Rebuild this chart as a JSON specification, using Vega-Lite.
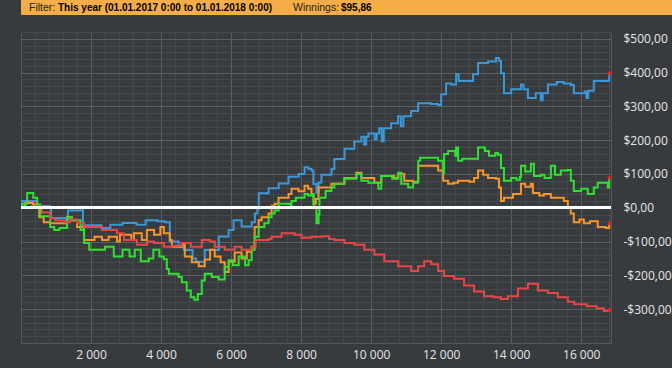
{
  "$schema": "https://vega.github.io/schema/vega-lite/v6.json",
  "background": "#383b3e",
  "padding": 0,
  "spacing": 16,
  "align": "none",
  "bounds": "full",
  "config": {
    "view": {"stroke": null},
    "locale": {"number": {"decimal": ",", "thousands": " ", "grouping": [3], "currency": ["$", ""], "minus": "-"}},
    "axis": {"labelFont": "Open Sans", "labelFontSize": 12, "labelColor": "#e6e6e6", "titleFont": "Open Sans"}
  },
  "datasets": {
    "lines": [
      {"s":"blue","x":0,"v":0},{"s":"blue","x":34,"v":20},{"s":"blue","x":462,"v":5},{"s":"blue","x":832,"v":0},{"s":"blue","x":860,"v":-30},{"s":"blue","x":1300,"v":-35},{"s":"blue","x":1340,"v":-8},{"s":"blue","x":1744,"v":3},{"s":"blue","x":1770,"v":-52},{"s":"blue","x":2300,"v":-60},{"s":"blue","x":2550,"v":-50},{"s":"blue","x":2900,"v":-45},{"s":"blue","x":3300,"v":-50},{"s":"blue","x":3560,"v":-37},{"s":"blue","x":3900,"v":-40},{"s":"blue","x":4100,"v":-43},{"s":"blue","x":4250,"v":-100},{"s":"blue","x":4500,"v":-115},{"s":"blue","x":4650,"v":-125},{"s":"blue","x":4900,"v":-150},{"s":"blue","x":5000,"v":-160},{"s":"blue","x":5250,"v":-125},{"s":"blue","x":5650,"v":-85},{"s":"blue","x":5930,"v":-66},{"s":"blue","x":6070,"v":-37},{"s":"blue","x":6300,"v":-55},{"s":"blue","x":6590,"v":-43},{"s":"blue","x":6680,"v":-17},{"s":"blue","x":6750,"v":-3},{"s":"blue","x":6790,"v":43},{"s":"blue","x":7070,"v":58},{"s":"blue","x":7360,"v":72},{"s":"blue","x":7640,"v":92},{"s":"blue","x":7930,"v":100},{"s":"blue","x":8100,"v":120},{"s":"blue","x":8210,"v":115},{"s":"blue","x":8300,"v":110},{"s":"blue","x":8350,"v":70},{"s":"blue","x":8440,"v":45},{"s":"blue","x":8500,"v":75},{"s":"blue","x":8580,"v":98},{"s":"blue","x":8870,"v":115},{"s":"blue","x":8950,"v":144},{"s":"blue","x":9240,"v":175},{"s":"blue","x":9520,"v":196},{"s":"blue","x":9720,"v":210},{"s":"blue","x":9800,"v":187},{"s":"blue","x":9860,"v":210},{"s":"blue","x":9920,"v":220},{"s":"blue","x":10100,"v":203},{"s":"blue","x":10160,"v":220},{"s":"blue","x":10230,"v":235},{"s":"blue","x":10300,"v":197},{"s":"blue","x":10360,"v":235},{"s":"blue","x":10570,"v":250},{"s":"blue","x":10770,"v":271},{"s":"blue","x":10850,"v":241},{"s":"blue","x":10920,"v":271},{"s":"blue","x":11140,"v":286},{"s":"blue","x":11340,"v":309},{"s":"blue","x":11710,"v":307},{"s":"blue","x":11910,"v":304},{"s":"blue","x":12000,"v":336},{"s":"blue","x":12140,"v":368},{"s":"blue","x":12284,"v":365},{"s":"blue","x":12426,"v":395},{"s":"blue","x":12500,"v":375},{"s":"blue","x":12910,"v":395},{"s":"blue","x":13053,"v":428},{"s":"blue","x":13338,"v":433},{"s":"blue","x":13566,"v":443},{"s":"blue","x":13650,"v":435},{"s":"blue","x":13708,"v":398},{"s":"blue","x":13793,"v":339},{"s":"blue","x":14000,"v":351},{"s":"blue","x":14278,"v":365},{"s":"blue","x":14350,"v":351},{"s":"blue","x":14477,"v":325},{"s":"blue","x":14700,"v":339},{"s":"blue","x":14848,"v":318},{"s":"blue","x":14900,"v":339},{"s":"blue","x":15047,"v":365},{"s":"blue","x":15300,"v":372},{"s":"blue","x":15500,"v":368},{"s":"blue","x":15703,"v":363},{"s":"blue","x":15788,"v":339},{"s":"blue","x":16100,"v":344},{"s":"blue","x":16150,"v":325},{"s":"blue","x":16200,"v":346},{"s":"blue","x":16358,"v":375},{"s":"blue","x":16757,"v":375},{"s":"blue","x":16800,"v":398},

      {"s":"orange","x":0,"v":0},{"s":"orange","x":120,"v":14},{"s":"orange","x":350,"v":10},{"s":"orange","x":462,"v":0},{"s":"orange","x":519,"v":-28},{"s":"orange","x":650,"v":-43},{"s":"orange","x":832,"v":-46},{"s":"orange","x":1316,"v":-28},{"s":"orange","x":1450,"v":-37},{"s":"orange","x":1601,"v":-57},{"s":"orange","x":1801,"v":-95},{"s":"orange","x":2100,"v":-86},{"s":"orange","x":2313,"v":-95},{"s":"orange","x":2500,"v":-86},{"s":"orange","x":2741,"v":-100},{"s":"orange","x":2826,"v":-80},{"s":"orange","x":3150,"v":-95},{"s":"orange","x":3225,"v":-75},{"s":"orange","x":3450,"v":-95},{"s":"orange","x":3595,"v":-66},{"s":"orange","x":3800,"v":-80},{"s":"orange","x":3980,"v":-57},{"s":"orange","x":4080,"v":-75},{"s":"orange","x":4250,"v":-95},{"s":"orange","x":4308,"v":-115},{"s":"orange","x":4600,"v":-110},{"s":"orange","x":4678,"v":-144},{"s":"orange","x":4878,"v":-161},{"s":"orange","x":5077,"v":-173},{"s":"orange","x":5248,"v":-153},{"s":"orange","x":5400,"v":-124},{"s":"orange","x":5533,"v":-144},{"s":"orange","x":5700,"v":-161},{"s":"orange","x":5818,"v":-190},{"s":"orange","x":5932,"v":-160},{"s":"orange","x":6103,"v":-132},{"s":"orange","x":6300,"v":-150},{"s":"orange","x":6450,"v":-130},{"s":"orange","x":6587,"v":-115},{"s":"orange","x":6673,"v":-57},{"s":"orange","x":6787,"v":-37},{"s":"orange","x":6872,"v":-28},{"s":"orange","x":7071,"v":-17},{"s":"orange","x":7157,"v":6},{"s":"orange","x":7242,"v":12},{"s":"orange","x":7356,"v":30},{"s":"orange","x":7641,"v":41},{"s":"orange","x":7727,"v":56},{"s":"orange","x":7926,"v":49},{"s":"orange","x":8097,"v":65},{"s":"orange","x":8200,"v":56},{"s":"orange","x":8296,"v":41},{"s":"orange","x":8353,"v":12},{"s":"orange","x":8420,"v":26},{"s":"orange","x":8496,"v":60},{"s":"orange","x":8866,"v":71},{"s":"orange","x":9236,"v":88},{"s":"orange","x":9578,"v":104},{"s":"orange","x":9720,"v":88},{"s":"orange","x":10090,"v":74},{"s":"orange","x":10290,"v":94},{"s":"orange","x":10660,"v":88},{"s":"orange","x":10774,"v":100},{"s":"orange","x":10945,"v":80},{"s":"orange","x":11200,"v":77},{"s":"orange","x":11344,"v":124},{"s":"orange","x":11714,"v":124},{"s":"orange","x":11913,"v":110},{"s":"orange","x":12056,"v":80},{"s":"orange","x":12198,"v":71},{"s":"orange","x":12350,"v":74},{"s":"orange","x":12483,"v":80},{"s":"orange","x":12800,"v":77},{"s":"orange","x":12939,"v":88},{"s":"orange","x":13053,"v":110},{"s":"orange","x":13200,"v":98},{"s":"orange","x":13338,"v":88},{"s":"orange","x":13566,"v":86},{"s":"orange","x":13651,"v":60},{"s":"orange","x":13708,"v":20},{"s":"orange","x":13793,"v":30},{"s":"orange","x":14050,"v":41},{"s":"orange","x":14278,"v":71},{"s":"orange","x":14400,"v":62},{"s":"orange","x":14560,"v":71},{"s":"orange","x":14620,"v":44},{"s":"orange","x":14800,"v":36},{"s":"orange","x":14933,"v":41},{"s":"orange","x":15133,"v":30},{"s":"orange","x":15300,"v":30},{"s":"orange","x":15503,"v":20},{"s":"orange","x":15617,"v":0},{"s":"orange","x":15700,"v":-17},{"s":"orange","x":15788,"v":-43},{"s":"orange","x":15950,"v":-35},{"s":"orange","x":16073,"v":-46},{"s":"orange","x":16250,"v":-40},{"s":"orange","x":16472,"v":-57},{"s":"orange","x":16700,"v":-60},{"s":"orange","x":16800,"v":-46},

      {"s":"green","x":0,"v":0},{"s":"green","x":40,"v":12},{"s":"green","x":177,"v":44},{"s":"green","x":350,"v":30},{"s":"green","x":462,"v":10},{"s":"green","x":550,"v":-25},{"s":"green","x":832,"v":-57},{"s":"green","x":950,"v":-66},{"s":"green","x":1100,"v":-60},{"s":"green","x":1316,"v":-28},{"s":"green","x":1450,"v":-37},{"s":"green","x":1700,"v":-66},{"s":"green","x":1801,"v":-104},{"s":"green","x":1950,"v":-124},{"s":"green","x":2400,"v":-115},{"s":"green","x":2650,"v":-144},{"s":"green","x":2900,"v":-124},{"s":"green","x":3100,"v":-144},{"s":"green","x":3250,"v":-124},{"s":"green","x":3420,"v":-158},{"s":"green","x":3650,"v":-150},{"s":"green","x":3780,"v":-124},{"s":"green","x":3950,"v":-144},{"s":"green","x":4080,"v":-152},{"s":"green","x":4165,"v":-181},{"s":"green","x":4222,"v":-195},{"s":"green","x":4500,"v":-205},{"s":"green","x":4593,"v":-220},{"s":"green","x":4735,"v":-245},{"s":"green","x":4850,"v":-265},{"s":"green","x":4950,"v":-272},{"s":"green","x":5050,"v":-255},{"s":"green","x":5162,"v":-215},{"s":"green","x":5250,"v":-195},{"s":"green","x":5450,"v":-205},{"s":"green","x":5647,"v":-212},{"s":"green","x":5818,"v":-175},{"s":"green","x":5932,"v":-155},{"s":"green","x":6050,"v":-170},{"s":"green","x":6217,"v":-144},{"s":"green","x":6400,"v":-170},{"s":"green","x":6500,"v":-155},{"s":"green","x":6587,"v":-124},{"s":"green","x":6673,"v":-86},{"s":"green","x":6787,"v":-57},{"s":"green","x":6950,"v":-46},{"s":"green","x":7071,"v":-28},{"s":"green","x":7157,"v":-17},{"s":"green","x":7242,"v":-8},{"s":"green","x":7356,"v":12},{"s":"green","x":7650,"v":12},{"s":"green","x":7700,"v":0},{"s":"green","x":7727,"v":20},{"s":"green","x":7850,"v":30},{"s":"green","x":8097,"v":41},{"s":"green","x":8200,"v":36},{"s":"green","x":8300,"v":41},{"s":"green","x":8360,"v":0},{"s":"green","x":8439,"v":-46},{"s":"green","x":8500,"v":-20},{"s":"green","x":8524,"v":30},{"s":"green","x":8700,"v":50},{"s":"green","x":8866,"v":60},{"s":"green","x":8950,"v":71},{"s":"green","x":9236,"v":86},{"s":"green","x":9578,"v":100},{"s":"green","x":9720,"v":80},{"s":"green","x":9919,"v":74},{"s":"green","x":10204,"v":56},{"s":"green","x":10290,"v":94},{"s":"green","x":10600,"v":86},{"s":"green","x":10774,"v":104},{"s":"green","x":10860,"v":71},{"s":"green","x":11059,"v":60},{"s":"green","x":11200,"v":74},{"s":"green","x":11344,"v":139},{"s":"green","x":11400,"v":148},{"s":"green","x":11913,"v":139},{"s":"green","x":12056,"v":104},{"s":"green","x":12084,"v":159},{"s":"green","x":12200,"v":168},{"s":"green","x":12400,"v":154},{"s":"green","x":12426,"v":178},{"s":"green","x":12483,"v":139},{"s":"green","x":12600,"v":145},{"s":"green","x":13053,"v":178},{"s":"green","x":13250,"v":168},{"s":"green","x":13366,"v":154},{"s":"green","x":13550,"v":162},{"s":"green","x":13623,"v":157},{"s":"green","x":13708,"v":118},{"s":"green","x":13793,"v":80},{"s":"green","x":14000,"v":88},{"s":"green","x":14150,"v":83},{"s":"green","x":14250,"v":91},{"s":"green","x":14278,"v":124},{"s":"green","x":14400,"v":107},{"s":"green","x":14563,"v":130},{"s":"green","x":14650,"v":94},{"s":"green","x":14850,"v":98},{"s":"green","x":14950,"v":88},{"s":"green","x":15133,"v":124},{"s":"green","x":15250,"v":98},{"s":"green","x":15418,"v":110},{"s":"green","x":15600,"v":112},{"s":"green","x":15703,"v":80},{"s":"green","x":15788,"v":50},{"s":"green","x":16000,"v":56},{"s":"green","x":16187,"v":41},{"s":"green","x":16358,"v":60},{"s":"green","x":16472,"v":74},{"s":"green","x":16650,"v":74},{"s":"green","x":16757,"v":60},{"s":"green","x":16800,"v":89},

      {"s":"red","x":0,"v":0},{"s":"red","x":300,"v":5},{"s":"red","x":600,"v":-14},{"s":"red","x":832,"v":-32},{"s":"red","x":974,"v":-37},{"s":"red","x":1231,"v":-43},{"s":"red","x":1400,"v":-35},{"s":"red","x":1601,"v":-46},{"s":"red","x":1801,"v":-57},{"s":"red","x":2313,"v":-66},{"s":"red","x":2741,"v":-75},{"s":"red","x":2940,"v":-95},{"s":"red","x":3311,"v":-109},{"s":"red","x":3600,"v":-100},{"s":"red","x":3795,"v":-104},{"s":"red","x":4080,"v":-115},{"s":"red","x":4308,"v":-112},{"s":"red","x":4593,"v":-104},{"s":"red","x":4850,"v":-115},{"s":"red","x":5162,"v":-95},{"s":"red","x":5400,"v":-100},{"s":"red","x":5533,"v":-115},{"s":"red","x":5818,"v":-124},{"s":"red","x":6100,"v":-115},{"s":"red","x":6300,"v":-124},{"s":"red","x":6587,"v":-115},{"s":"red","x":6700,"v":-95},{"s":"red","x":7071,"v":-92},{"s":"red","x":7157,"v":-86},{"s":"red","x":7442,"v":-75},{"s":"red","x":7812,"v":-80},{"s":"red","x":8011,"v":-89},{"s":"red","x":8296,"v":-86},{"s":"red","x":8581,"v":-84},{"s":"red","x":8800,"v":-92},{"s":"red","x":8951,"v":-95},{"s":"red","x":9236,"v":-104},{"s":"red","x":9521,"v":-109},{"s":"red","x":9806,"v":-124},{"s":"red","x":10090,"v":-138},{"s":"red","x":10375,"v":-158},{"s":"red","x":10774,"v":-173},{"s":"red","x":11144,"v":-187},{"s":"red","x":11344,"v":-173},{"s":"red","x":11515,"v":-158},{"s":"red","x":11714,"v":-167},{"s":"red","x":11913,"v":-187},{"s":"red","x":12084,"v":-202},{"s":"red","x":12369,"v":-210},{"s":"red","x":12654,"v":-230},{"s":"red","x":12939,"v":-248},{"s":"red","x":13224,"v":-262},{"s":"red","x":13500,"v":-265},{"s":"red","x":13708,"v":-270},{"s":"red","x":13907,"v":-262},{"s":"red","x":14192,"v":-239},{"s":"red","x":14477,"v":-225},{"s":"red","x":14762,"v":-245},{"s":"red","x":15047,"v":-252},{"s":"red","x":15332,"v":-265},{"s":"red","x":15617,"v":-278},{"s":"red","x":15800,"v":-285},{"s":"red","x":16159,"v":-291},{"s":"red","x":16444,"v":-297},{"s":"red","x":16643,"v":-305},{"s":"red","x":16800,"v":-302}
    ]
  },
  "vconcat": [
    {
      "width": 672,
      "height": 15,
      "view": {"fill": "#f4ad48", "stroke": null},
      "layer": [
        {"data": {"values": [{"t": "Filter:"}]}, "mark": {"type": "text", "align": "left", "baseline": "middle", "font": "Liberation Sans", "fontSize": 10.5, "color": "#1e1e1e"}, "encoding": {"text": {"field": "t"}, "x": {"value": 8}, "y": {"value": 8}}},
        {"data": {"values": [{"t": "This year (01.01.2017 0:00 to 01.01.2018 0:00)"}]}, "mark": {"type": "text", "align": "left", "baseline": "middle", "font": "Liberation Sans", "fontSize": 10, "fontWeight": "bold", "color": "#000000"}, "encoding": {"text": {"field": "t"}, "x": {"value": 37}, "y": {"value": 8}}},
        {"data": {"values": [{"t": "Winnings:"}]}, "mark": {"type": "text", "align": "left", "baseline": "middle", "font": "Liberation Sans", "fontSize": 10.5, "color": "#1e1e1e"}, "encoding": {"text": {"field": "t"}, "x": {"value": 272}, "y": {"value": 8}}},
        {"data": {"values": [{"t": "$95,86"}]}, "mark": {"type": "text", "align": "left", "baseline": "middle", "font": "Liberation Sans", "fontSize": 10, "fontWeight": "bold", "color": "#000000"}, "encoding": {"text": {"field": "t"}, "x": {"value": 320}, "y": {"value": 8}}}
      ]
    },
    {
      "width": 590,
      "height": 311,
      "view": {"stroke": "#56595c", "fill": "#383b3e"},
      "data": {"name": "lines"},
      "resolve": {"axis": {"x": "independent", "y": "independent"}},
      "layer": [
        {
          "mark": {"type": "line", "opacity": 0},
          "encoding": {
            "x": {"field": "x", "type": "quantitative", "scale": {"domain": [0, 16850], "nice": false, "zero": false},
                  "axis": {"orient": "top", "values": [400,800,1200,1600,2400,2800,3200,3600,4400,4800,5200,5600,6400,6800,7200,7600,8400,8800,9200,9600,10400,10800,11200,11600,12400,12800,13200,13600,14400,14800,15200,15600,16400,16800], "labels": false, "ticks": false, "domain": false, "grid": true, "gridColor": "#46494c", "gridOpacity": 1, "title": null, "minExtent": 0, "maxExtent": 0}},
            "y": {"field": "v", "type": "quantitative", "scale": {"domain": [-400, 520], "nice": false, "zero": false},
                  "axis": {"orient": "left", "values": [-380,-360,-340,-320,-280,-260,-240,-220,-180,-160,-140,-120,-80,-60,-40,-20,20,40,60,80,120,140,160,180,220,240,260,280,320,340,360,380,420,440,460,480,520], "labels": false, "ticks": false, "domain": false, "grid": true, "gridColor": "#46494c", "gridOpacity": 1, "title": null, "minExtent": 20, "maxExtent": 20}},
            "detail": {"field": "s"}
          }
        },
        {
          "mark": {"type": "line", "interpolate": "step-after", "strokeWidth": 2},
          "encoding": {
            "x": {"field": "x", "type": "quantitative",
                  "axis": {"orient": "bottom", "values": [2000,4000,6000,8000,10000,12000,14000,16000], "format": ",d", "labels": true, "ticks": false, "domain": false, "grid": true, "gridColor": "#5b5e61", "gridOpacity": 1, "labelPadding": 6, "title": null, "minExtent": 26, "maxExtent": 26}},
            "y": {"field": "v", "type": "quantitative",
                  "axis": {"orient": "right", "values": [-300,-200,-100,0,100,200,300,400,500], "format": "$,.2f", "ticks": false, "domain": false, "grid": true, "gridColor": "#5b5e61", "gridOpacity": 1, "labelPadding": 12, "labelAlign": "left", "title": null, "minExtent": 62, "maxExtent": 62}},
            "color": {"field": "s", "type": "nominal", "scale": {"domain": ["blue", "orange", "green", "red"], "range": ["#3a98d8", "#f5952a", "#30e030", "#e84646"]}, "legend": null}
          }
        },
        {
          "mark": {"type": "rule", "color": "#ffffff", "strokeWidth": 2.5},
          "encoding": {"y": {"datum": 0, "type": "quantitative", "axis": null}}
        },
        {
          "transform": [{"filter": "datum.x == 16800"}],
          "mark": {"type": "square", "color": "#ff1a1a", "size": 10, "opacity": 1},
          "encoding": {
            "x": {"field": "x", "type": "quantitative", "axis": null},
            "y": {"field": "v", "type": "quantitative", "axis": null}
          }
        }
      ]
    }
  ]
}
